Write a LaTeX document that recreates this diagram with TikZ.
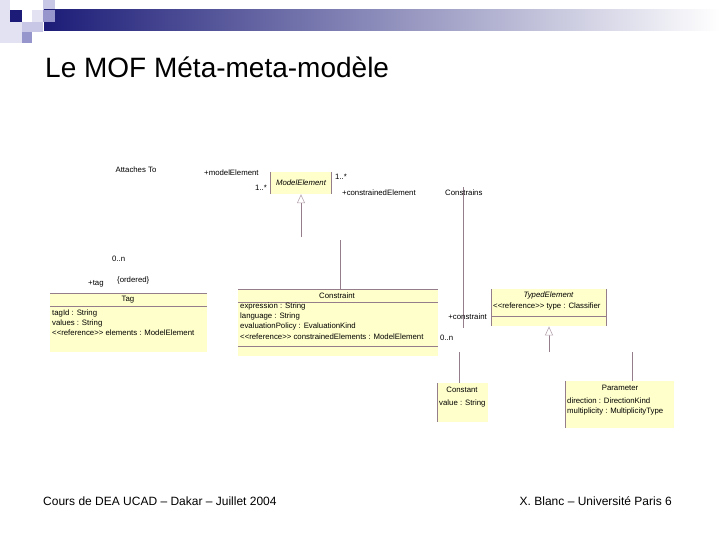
\documentclass[tikz,border=0pt]{standalone}
\usepackage{fontspec}
\setmainfont{Liberation Sans}
\usetikzlibrary{arrows.meta}
\definecolor{umlfill}{RGB}{255,255,204}
\definecolor{umlline}{RGB}{150,125,140}
\definecolor{navy}{RGB}{28,28,120}
\definecolor{lav1}{RGB}{226,226,242}
\definecolor{lav2}{RGB}{200,200,230}
\definecolor{lav3}{RGB}{150,150,205}
\newcommand\stref{\hbox{<}\hbox{<}reference\hbox{>}\hbox{>}}
\begin{document}
\begin{tikzpicture}[x=1pt,y=-1pt,
  lbl/.style={inner sep=0pt, font=\fontsize{7.8}{9}\selectfont},
  fillbox/.style={fill=umlfill, draw=none, inner sep=0pt},
  ln/.style={draw=umlline, line width=0.8pt},
  gen/.style={draw=umlline!70, line width=0.6pt, -{Triangle[open,length=9pt,width=8pt]}}]
\useasboundingbox (0,0) rectangle (720,540);
% decoration
\fill[lav1] (0,0) rectangle (10,22);
\fill[lav1] (0,22) rectangle (22,43);
\fill[navy] (10,10) rectangle (22,22);
\fill[lav1] (32,10) rectangle (43,22);
\fill[lav2] (43,0) rectangle (55,10);
\fill[lav2] (22,22) rectangle (43,32);
\fill[lav3] (22,32) rectangle (32,43);
\shade[left color=navy, right color=white] (44,10) rectangle (720,31);
\fill[lav3] (43,10) rectangle (55,22);
% title
\node[anchor=base west, inner sep=0pt, font=\fontsize{28}{32}\selectfont] (title) at (45,78) {Le MOF Méta-meta-modèle};
% footer
\node[anchor=base west, inner sep=0pt, font=\fontsize{12}{14}\selectfont] (foot1) at (43,505) {Cours de DEA UCAD – Dakar – Juillet 2004};
\node[anchor=base east, inner sep=0pt, font=\fontsize{12}{14}\selectfont] (foot2) at (672,505) {X. Blanc – Université Paris 6};

% ModelElement
\node[fillbox, minimum width=60pt, minimum height=22pt] (me) at (301,183) {};
\node[lbl, font=\fontsize{7.8}{9}\selectfont\itshape] (metxt) at (me) {ModelElement};
\draw[ln] (me.north west) -- (me.south west) (me.north east) -- (me.south east);

% Tag
\node[fillbox, minimum width=157pt, minimum height=59pt, anchor=north west] (tag) at (50,293) {};
\draw[ln] (tag.north west) -- (tag.north east);
\draw[ln] ([yshift=-13pt]tag.north west) -- ([yshift=-13pt]tag.north east);
\node[lbl] (tagh) at (128,300) {Tag};
\node[lbl, anchor=west] (tag1) at (52,313) {tagId : String};
\node[lbl, anchor=west] (tag2) at (52,323) {values : String};
\node[lbl, anchor=west] (tag3) at (52,333) {\stref{} elements : ModelElement};

% Constraint
\node[fillbox, minimum width=200pt, minimum height=67pt, anchor=north west] (con) at (238,289) {};
\draw[ln] (con.north west) -- (con.north east);
\draw[ln] ([yshift=-13pt]con.north west) -- ([yshift=-13pt]con.north east);
\draw[ln] ([yshift=-57pt]con.north west) -- ([yshift=-57pt]con.north east);
\node[lbl] (conh) at (337,295.5) {Constraint};
\node[lbl, anchor=west] (con1) at (240,306) {expression : String};
\node[lbl, anchor=west] (con2) at (240,316) {language : String};
\node[lbl, anchor=west] (con3) at (240,326) {evaluationPolicy : EvaluationKind};
\node[lbl, anchor=west] (con4) at (240,337) {\stref{} constrainedElements : ModelElement};

% TypedElement
\node[fillbox, minimum width=115pt, minimum height=37pt, anchor=north west] (te) at (491,289) {};
\draw[ln] (te.north west) -- (te.south west) (te.north east) -- (te.south east);
\draw[ln] ([yshift=-27pt]te.north west) -- ([yshift=-27pt]te.north east);
\node[lbl, font=\fontsize{7.8}{9}\selectfont\itshape] (teh) at (548.5,295) {TypedElement};
\node[lbl, anchor=west] (te1) at (493,306) {\stref{} type : Classifier};

% Constant
\node[fillbox, minimum width=51pt, minimum height=39pt, anchor=north west] (cst) at (437,383) {};
\draw[ln] (cst.north west) -- (cst.south west);
\node[lbl] (csth) at (462,390) {Constant};
\node[lbl, anchor=west] (cst1) at (439,403) {value : String};

% Parameter
\node[fillbox, minimum width=109pt, minimum height=47pt, anchor=north west] (par) at (565,381) {};
\draw[ln] (par.north west) -- (par.south west);
\node[lbl] (parh) at (620,388) {Parameter};
\node[lbl, anchor=west] (par1) at (567,401) {direction : DirectionKind};
\node[lbl, anchor=west] (par2) at (567,411) {multiplicity : MultiplicityType};

% connectors
\coordinate (g1) at (301,237);
\draw[gen] (g1) -- (me.south);
\draw[ln] (g1) -- ([yshift=-9pt]me.south);
\coordinate (c1) at (340,240);
\draw[ln] (c1) -- (c1 |- con.north);
\coordinate (k1) at (463,187);
\coordinate (k2) at (463,328);
\draw[ln] (k1) -- (k2);
\coordinate (g2) at (549,352);
\draw[gen] (g2) -- (g2 |- te.south);
\draw[ln] (g2) -- ([yshift=-10pt]g2 |- te.south);
\coordinate (g3) at (459,352);
\draw[ln] (g3) -- (g3 |- cst.north);
\coordinate (g4) at (632,352);
\draw[ln] (g4) -- (g4 |- par.north);

% labels
\node[lbl] (l1) at (136,170) {Attaches To};
\node[lbl, anchor=west] (l2) at (204,173) {+modelElement};
\node[lbl, anchor=west] (l3) at (255,188) {1..*};
\node[lbl, anchor=west] (l4) at (335,177) {1..*};
\node[lbl, anchor=west] (l5) at (342,193) {+constrainedElement};
\node[lbl, anchor=west] (l6) at (445,193) {Constrains};
\node[lbl, anchor=west] (l7) at (112,259) {0..n};
\node[lbl, anchor=west] (l8) at (117,280) {\{ordered\}};
\node[lbl, anchor=west] (l9) at (88,284) {+tag};
\node[lbl, anchor=east] (l10) at (487,317) {+constraint};
\node[lbl, anchor=west] (l11) at (440,338) {0..n};
\end{tikzpicture}
\end{document}
